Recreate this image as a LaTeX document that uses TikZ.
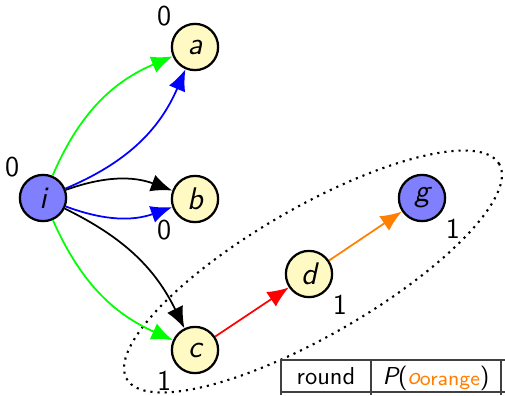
\documentclass[tikz,border=0pt]{standalone}
\usepackage{fontspec}
\usetikzlibrary{arrows.meta}
\definecolor{nodeyellow}{RGB}{255,249,196}
\definecolor{nodeblue}{RGB}{128,128,255}
\definecolor{arrorange}{RGB}{255,128,0}

\begin{document}
\begin{tikzpicture}[x=0.4pt,y=0.4pt,
  vertex/.style={circle,draw,line width=0.9pt,minimum size=18.5pt,inner sep=0pt,
    font=\fontsize{12.5}{14}\selectfont\sffamily\itshape},
  plain/.style={vertex,fill=nodeyellow},
  goal/.style={vertex,fill=nodeblue},
  num/.style={label={[anchor=center,label distance=7.8pt,
    font=\fontsize{11.5}{13}\selectfont\sffamily]#1}},
  edge/.style={-{Latex[length=8.5pt,width=7pt]},line width=0.7pt},
  tabtext/.style={anchor=base,inner sep=0pt,font=\fontsize{9.8}{11}\selectfont\sffamily},
  rule/.style={black!75,line width=0.6pt},
]
\useasboundingbox (0,0) rectangle (505,395);

% group of nodes reached in round 1
\draw[dotted,line width=0.85pt,rotate around={30:(313,123.5)}]
  (313,123.5) ellipse [x radius=86pt,y radius=25.6pt];

% vertices
\node[goal,num={135:0}]  (i) at (43,197)  {i};
\node[plain,num={135:0}] (a) at (195,348) {a};
\node[plain,num={225:0}] (b) at (195,196) {b};
\node[plain,num={225:1}] (c) at (195,45)  {c};
\node[plain,num={-45:1}] (d) at (309,121) {d};
\node[goal,num={-45:1}]  (g) at (422,197) {g};

% edges
\draw[edge,green] (i) to[bend left=22]  (a);
\draw[edge,blue]  (i) to[bend right=22] (a);
\draw[edge]       (i) to[bend left=20]  (b);
\draw[edge,blue]  (i) to[bend right=20] (b);
\draw[edge]       (i) to[bend left=19]  (c);
\draw[edge,green] (i) to[bend right=21] (c);
\draw[edge,red]   (c) -- (d);
\draw[edge,arrorange] (d) -- (g);

% table header
\draw[rule] (281,0) -- (281,35) -- (505,35);
\draw[rule] (371,0) -- (371,35);
\draw[rule] (501,0) -- (501,35);
\draw[rule] (281,3) -- (505,3);
\node[tabtext] (hround) at (326,11) {round};
\node[tabtext] (hprob) at (436,11)
  {\itshape P\upshape(\textcolor{arrorange}{\itshape o\upshape\raisebox{-0.6pt}{\fontsize{8.2}{9}\selectfont orange}})};
\end{tikzpicture}
\end{document}
